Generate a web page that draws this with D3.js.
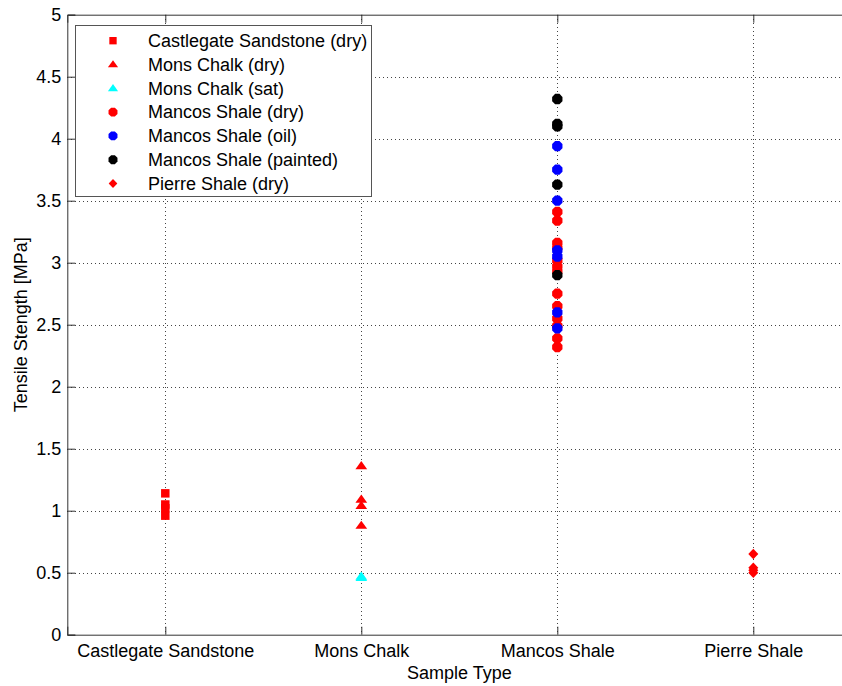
<!DOCTYPE html>
<html>
<head>
<meta charset="utf-8">
<script src="https://cdn.jsdelivr.net/npm/d3@7"></script>
<style>
  html, body { margin: 0; padding: 0; background: #fff; }
  svg { display: block; font-family: Arial, "Liberation Sans", sans-serif; }
</style>
</head>
<body>
<svg id="chart" width="842" height="686"></svg>
<script>
// Sample groups shown along the x axis
const categories = ["Castlegate Sandstone", "Mons Chalk", "Mancos Shale", "Pierre Shale"];
const yTicks = [0, 0.5, 1, 1.5, 2, 2.5, 3, 3.5, 4, 4.5, 5];

// Tensile strength measurements [MPa], one array per test series
const castlegateDry = [1.14, 1.05, 1.02, 0.96];
const monsDry = [1.36, 1.09, 1.04, 0.88];
const monsSat = [0.47, 0.46];
const mancosDry = [3.41, 3.34, 3.16, 3.12, 3.02, 2.97, 2.93, 2.75, 2.65, 2.55, 2.49, 2.39, 2.32];
const mancosOil = [3.94, 3.75, 3.50, 3.10, 3.05, 2.60, 2.47];
const mancosPainted = [4.32, 4.12, 4.10, 3.63, 2.90];
const pierreDry = [0.65, 0.54, 0.52, 0.50];

// Marker shapes
const flatTriangle = {
  draw(ctx, size) {
    const w = Math.sqrt(size) * 0.42, h = w * 1.4;
    ctx.moveTo(0, -h * 0.6);
    ctx.lineTo(w, h * 0.4);
    ctx.lineTo(-w, h * 0.4);
    ctx.closePath();
  }
};
const rhombus = {
  draw(ctx, size) {
    const w = Math.sqrt(size) * 0.5, h = w * 1.05;
    ctx.moveTo(0, -h);
    ctx.lineTo(w, 0);
    ctx.lineTo(0, h);
    ctx.lineTo(-w, 0);
    ctx.closePath();
  }
};
const octagon = {
  draw(ctx, size) {
    const r = Math.sqrt(size) * 0.5;
    for (let i = 0; i < 8; i++) {
      const a = Math.PI / 8 + i * Math.PI / 4;
      const px = r * Math.cos(a), py = r * Math.sin(a);
      if (i === 0) ctx.moveTo(px, py); else ctx.lineTo(px, py);
    }
    ctx.closePath();
  }
};

const series = [
  { name: "Castlegate Sandstone (dry)", cat: 0, values: castlegateDry, color: "#ff0000", shape: d3.symbolSquare, size: 72 },
  { name: "Mons Chalk (dry)", cat: 1, values: monsDry, color: "#ff0000", shape: flatTriangle, size: 196 },
  { name: "Mons Chalk (sat)", cat: 1, values: monsSat, color: "#00ffff", shape: flatTriangle, size: 196 },
  { name: "Mancos Shale (dry)", cat: 2, values: mancosDry, color: "#ff0000", shape: octagon, size: 125 },
  { name: "Mancos Shale (oil)", cat: 2, values: mancosOil, color: "#0000ff", shape: octagon, size: 125 },
  { name: "Mancos Shale (painted)", cat: 2, values: mancosPainted, color: "#000000", shape: octagon, size: 125 },
  { name: "Pierre Shale (dry)", cat: 3, values: pierreDry, color: "#ff0000", shape: rhombus, size: 100 }
];

const svg = d3.select("#chart");
const plotLeft = 67.3, plotTop = 14.7, plotBottom = 634.7, plotRight = 851.3;

const x = d3.scaleLinear().domain([0.5, categories.length + 0.5]).range([plotLeft, plotRight]);
const y = d3.scaleLinear().domain([0, 5]).range([plotBottom, plotTop]);

svg.append("rect").attr("width", 842).attr("height", 686).attr("fill", "#fff");

// Dotted grid
const grid = svg.append("g").attr("stroke", "#444").attr("stroke-width", 1)
  .attr("stroke-dasharray", "1,3").attr("shape-rendering", "crispEdges");
grid.selectAll("line.h").data(yTicks.slice(1, -1)).join("line")
  .attr("x1", plotLeft).attr("x2", plotRight)
  .attr("y1", d => Math.round(y(d)) + 0.5).attr("y2", d => Math.round(y(d)) + 0.5);
grid.selectAll("line.v").data(categories).join("line")
  .attr("x1", (d, i) => Math.round(x(i + 1)) + 0.5).attr("x2", (d, i) => Math.round(x(i + 1)) + 0.5)
  .attr("y1", plotTop).attr("y2", plotBottom);

// Axes with inward ticks
const yAxis = d3.axisLeft(y).tickValues(yTicks).tickSize(-8).tickPadding(6)
  .tickFormat(d3.format("~g"));
const xAxis = d3.axisBottom(x).tickValues(d3.range(1, categories.length + 1))
  .tickSize(-8).tickPadding(14).tickFormat(d => categories[d - 1]);
const xTop = d3.axisTop(x).tickValues(d3.range(1, categories.length + 1))
  .tickSize(-8).tickFormat("");

function styleAxis(g) {
  g.select(".domain").attr("stroke", "#333").attr("stroke-width", 1);
  g.selectAll(".tick line").attr("stroke", "#333");
  g.selectAll(".tick text").attr("fill", "#000").attr("font-size", 18)
    .attr("font-family", "Arial, 'Liberation Sans', sans-serif");
}
svg.append("g").attr("transform", `translate(${plotLeft},0)`).call(yAxis).call(styleAxis);
svg.append("g").attr("transform", `translate(0,${plotBottom})`).call(xAxis).call(styleAxis)
  .call(g => g.selectAll(".tick text").attr("dy", "0.46em"));
svg.append("g").attr("transform", `translate(0,${plotTop})`).call(xTop).call(styleAxis);

// Axis titles
svg.append("text").attr("x", (plotLeft + plotRight) / 2).attr("y", 678.5)
  .attr("text-anchor", "middle").attr("font-size", 18).text("Sample Type");
svg.append("text").attr("transform", `translate(27,${(plotTop + plotBottom) / 2}) rotate(-90)`)
  .attr("text-anchor", "middle").attr("font-size", 18).text("Tensile Stength [MPa]");

// Data markers
const marks = svg.append("g");
series.forEach(s => {
  const sym = d3.symbol().type(s.shape).size(s.size);
  marks.append("g").selectAll("path").data(s.values).join("path")
    .attr("transform", d => `translate(${x(s.cat + 1)},${y(d)})`)
    .attr("d", sym).attr("fill", s.color);
});

// Legend
const lg = svg.append("g");
lg.append("rect").attr("x", 75.5).attr("y", 25.5).attr("width", 296).attr("height", 171)
  .attr("fill", "#fff").attr("stroke", "#555").attr("stroke-width", 1);
const rows = lg.selectAll("g.row").data(series).join("g")
  .attr("transform", (d, i) => `translate(0,${40.7 + i * 23.8})`);
rows.append("path").attr("transform", "translate(113,0)")
  .attr("d", d => d3.symbol().type(d.shape).size(d.size * 0.75)())
  .attr("fill", d => d.color);
rows.append("text").attr("x", 148).attr("dy", "0.35em").attr("font-size", 18)
  .text(d => d.name);
</script>
</body>
</html>
